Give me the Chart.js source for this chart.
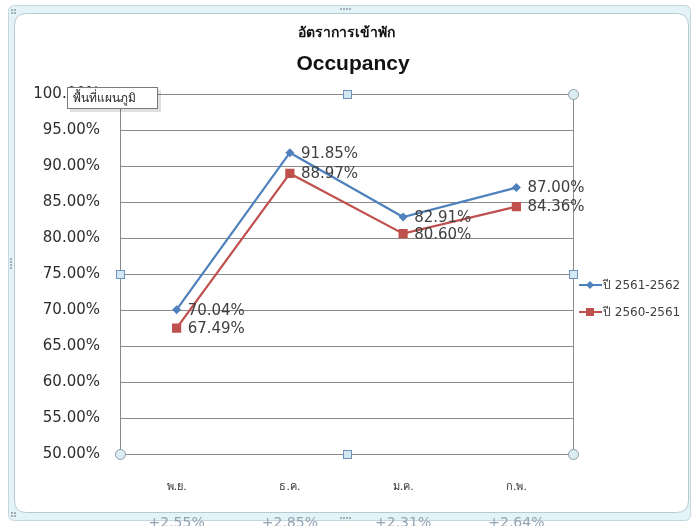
<!DOCTYPE html>
<html>
<head>
<meta charset="utf-8">
<script src="https://cdn.jsdelivr.net/npm/chart.js@4.4.1/dist/chart.umd.min.js"></script>
<style>
html,body{margin:0;padding:0;background:#fff;}
#wrap{width:692px;height:526px;position:relative;}
</style>
</head>
<body>
<div id="wrap"><canvas id="c" width="692" height="526"></canvas></div>
<script>
// ---- data ----
const categories = ['พ.ย.', 'ธ.ค.', 'ม.ค.', 'ก.พ.'];
const series2562 = [70.04, 91.85, 82.91, 87.00];
const series2561 = [67.49, 88.97, 80.60, 84.36];
const seriesNames = ['ปี 2561-2562', 'ปี 2560-2561'];
const changeLabels = ['+2.55%', '+2.85%', '+2.31%', '+2.64%'];
const titleLines = ['อัตราการเข้าพัก', 'Occupancy'];
const tooltipText = 'พื้นที่แผนภูมิ';

const BLUE = '#4F81BD', RED = '#C0504D';
const FONT = "'DejaVu Sans', 'Noto Sans', sans-serif";

function rr(ctx, x, y, w, h, r) {
  ctx.beginPath();
  ctx.moveTo(x + r, y);
  ctx.lineTo(x + w - r, y);
  ctx.quadraticCurveTo(x + w, y, x + w, y + r);
  ctx.lineTo(x + w, y + h - r);
  ctx.quadraticCurveTo(x + w, y + h, x + w - r, y + h);
  ctx.lineTo(x + r, y + h);
  ctx.quadraticCurveTo(x, y + h, x, y + h - r);
  ctx.lineTo(x, y + r);
  ctx.quadraticCurveTo(x, y, x + r, y);
  ctx.closePath();
}

const decor = {
  id: 'decor',
  beforeDraw(chart) {
    const ctx = chart.ctx;
    ctx.save();
    ctx.fillStyle = '#fff';
    ctx.fillRect(0, 0, chart.width, chart.height);
    rr(ctx, 8.5, 5.5, 682, 515, 6);
    ctx.fillStyle = '#e4f3f7';
    ctx.fill();
    ctx.strokeStyle = '#c5d6de';
    ctx.lineWidth = 1;
    ctx.stroke();
    rr(ctx, 14.5, 13.5, 674, 499, 12);
    ctx.fillStyle = '#fff';
    ctx.fill();
    ctx.strokeStyle = '#b9c9d2';
    ctx.stroke();
    ctx.fillStyle = '#9fb0ba';
    const dots = [[11,9],[14,9],[11,12],[14,12],[11,512],[14,512],[11,515],[14,515]];
    dots.forEach(d => ctx.fillRect(d[0], d[1], 2, 2));
    for (let i = 0; i < 4; i++) { ctx.fillRect(340 + i * 3, 8, 2, 2); ctx.fillRect(340 + i * 3, 517, 2, 2); ctx.fillRect(10, 258 + i * 3, 2, 2); }
    ctx.restore();
  },
  afterDraw(chart) {
    const ctx = chart.ctx;
    const a = chart.chartArea;
    ctx.save();
    ctx.strokeStyle = '#8a8a8a';
    ctx.lineWidth = 1;
    ctx.beginPath();
    ctx.moveTo(Math.round(a.right) + 0.5, a.top);
    ctx.lineTo(Math.round(a.right) + 0.5, a.bottom);
    ctx.stroke();

    // data labels
    ctx.font = '15px ' + FONT;
    ctx.fillStyle = '#3f3f3f';
    ctx.textAlign = 'left';
    ctx.textBaseline = 'middle';
    chart.data.datasets.forEach((ds, i) => {
      const meta = chart.getDatasetMeta(i);
      meta.data.forEach((pt, j) => {
        ctx.fillText(ds.data[j].toFixed(2) + '%', pt.x + 11, pt.y + 1);
      });
    });

    // titles
    ctx.textAlign = 'center';
    ctx.fillStyle = '#111';
    ctx.font = 'bold 14px ' + FONT;
    ctx.fillText(titleLines[0], 346, 33);
    ctx.font = "bold 21px 'Liberation Sans', Arial, sans-serif";
    ctx.fillText(titleLines[1], 353, 64);

    // legend
    const legY = [285, 312];
    const cols = [BLUE, RED];
    ctx.textAlign = 'left';
    ctx.font = '12px ' + FONT;
    for (let i = 0; i < 2; i++) {
      const y = legY[i];
      ctx.strokeStyle = cols[i];
      ctx.lineWidth = 2;
      ctx.beginPath();
      ctx.moveTo(579, y); ctx.lineTo(602, y); ctx.stroke();
      ctx.fillStyle = cols[i];
      if (i === 0) {
        ctx.beginPath();
        ctx.moveTo(590, y - 4); ctx.lineTo(594, y); ctx.lineTo(590, y + 4); ctx.lineTo(586, y);
        ctx.closePath(); ctx.fill();
      } else {
        ctx.fillRect(586, y - 4, 8, 8);
      }
      ctx.fillStyle = '#404040';
      ctx.fillText(seriesNames[i], 603, y + 1);
    }

    // selection handles on plot area
    const cx = (a.left + a.right) / 2, cy = (a.top + a.bottom) / 2;
    const circles = [[a.left, a.top], [a.right, a.top], [a.left, a.bottom], [a.right, a.bottom]];
    const squares = [[cx, a.top], [cx, a.bottom], [a.left, cy], [a.right, cy]];
    circles.forEach(p => {
      ctx.beginPath();
      ctx.arc(p[0] + 0.5, p[1] + 0.5, 5, 0, Math.PI * 2);
      ctx.fillStyle = '#dcecf3';
      ctx.fill();
      ctx.strokeStyle = '#8e9ea8';
      ctx.lineWidth = 1;
      ctx.stroke();
    });
    squares.forEach(p => {
      ctx.fillStyle = '#d3e8f5';
      ctx.fillRect(Math.round(p[0]) - 4, Math.round(p[1]) - 4, 9, 9);
      ctx.strokeStyle = '#6f93b8';
      ctx.strokeRect(Math.round(p[0]) - 3.5, Math.round(p[1]) - 3.5, 8, 8);
    });

    // tooltip box
    ctx.fillStyle = 'rgba(0,0,0,0.12)';
    ctx.fillRect(70, 90, 91, 22);
    ctx.fillStyle = '#fff';
    ctx.fillRect(67, 87, 91, 22);
    ctx.strokeStyle = '#7a7a7a';
    ctx.strokeRect(67.5, 87.5, 90, 21);
    ctx.fillStyle = '#2a2a2a';
    ctx.font = '12px ' + FONT;
    ctx.textAlign = 'left';
    ctx.fillText(tooltipText, 73, 99);

    // bottom change labels (partially hidden)
    const xs = chart.scales.x;
    ctx.font = '14px ' + FONT;
    ctx.fillStyle = '#93a3b3';
    ctx.textAlign = 'center';
    changeLabels.forEach((t, j) => {
      ctx.fillText(t, xs.getPixelForValue(j), 523);
    });
    ctx.restore();
  }
};

new Chart(document.getElementById('c'), {
  type: 'line',
  data: {
    labels: categories,
    datasets: [
      { label: seriesNames[0], data: series2562, borderColor: BLUE, backgroundColor: BLUE,
        borderWidth: 2.25, pointStyle: 'rectRot', pointRadius: 4.5, pointBorderWidth: 0, tension: 0 },
      { label: seriesNames[1], data: series2561, borderColor: RED, backgroundColor: RED,
        borderWidth: 2.25, pointStyle: 'rect', pointRadius: 6.5, pointBorderWidth: 0, tension: 0 }
    ]
  },
  options: {
    responsive: false,
    animation: false,
    devicePixelRatio: 1,
    layout: { padding: { left: 0, right: 119, top: 94, bottom: 0 } },
    plugins: { legend: { display: false }, tooltip: { enabled: false }, title: { display: false } },
    scales: {
      x: {
        offset: true,
        grid: { display: false, drawTicks: false },
        border: { display: false },
        ticks: { padding: 27, color: '#333', font: { family: FONT, size: 11 } },
        afterFit(s) { s.height = 72; }
      },
      y: {
        min: 50, max: 100,
        ticks: { stepSize: 5, padding: 20, color: '#2e2e2e', font: { family: FONT, size: 15 },
          callback: v => v.toFixed(2) + '%' },
        grid: { color: '#8a8a8a', lineWidth: 1, drawTicks: false },
        border: { display: true, color: '#8a8a8a', width: 1 },
        afterFit(s) { s.width = 120; }
      }
    }
  },
  plugins: [decor]
});
</script>
</body>
</html>
